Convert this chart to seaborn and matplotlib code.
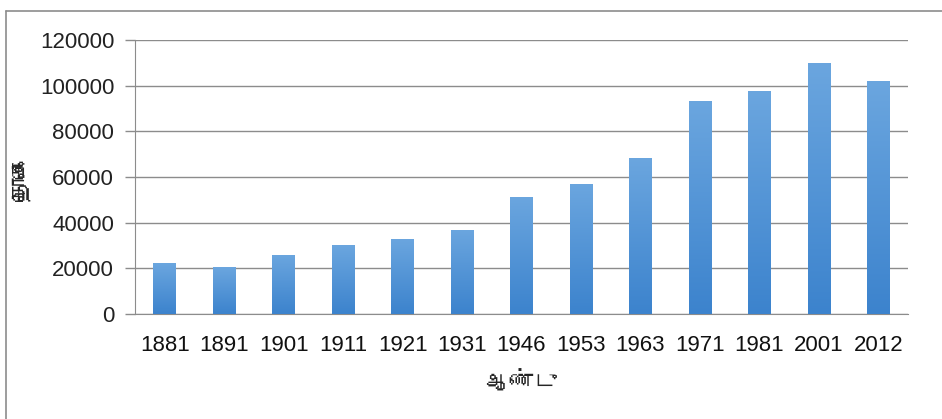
import matplotlib

matplotlib.use("Agg")
import matplotlib.pyplot as plt
import numpy as np
import pandas as pd
import seaborn as sns
from matplotlib import font_manager
from matplotlib.colors import LinearSegmentedColormap
from matplotlib.ft2font import FT2Font

years = ["1881", "1891", "1901", "1911", "1921", "1931", "1946",
         "1953", "1963", "1971", "1981", "2001", "2012"]
counts = [22200, 20500, 26000, 30000, 32900, 36800, 51300,
          57000, 68400, 93100, 97600, 110000, 102000]
y_ticks = [0, 20000, 40000, 60000, 80000, 100000, 120000]
x_title = "ஆண்டு"
y_title = "தொகை"


def find_font(ch):
    # look for any installed font that actually has the glyph
    for f in font_manager.fontManager.ttflist:
        try:
            if FT2Font(f.fname).get_char_index(ord(ch)):
                return f.name
        except Exception:
            pass
    return None


def has_family(name):
    return any(f.name == name for f in font_manager.fontManager.ttflist)


sns.set_style("white")
tamil = find_font("த")
label_family = [tamil, "DejaVu Sans"] if tamil else ["DejaVu Sans"]
narrow = "Liberation Sans Narrow" if has_family("Liberation Sans Narrow") else "Liberation Sans"
x_size = 18 if narrow == "Liberation Sans Narrow" else 16

df = pd.DataFrame({"year": years, "count": counts})

fig = plt.figure(figsize=(9.42, 4.19), dpi=100)
ax = fig.add_axes([135 / 942, 1 - 314 / 419, 773 / 942, 274 / 419])

sns.barplot(data=df, x="year", y="count", color="#4a8fd6", width=0.38,
            saturation=1, ax=ax, zorder=3)

# vertical gradient fill, like the office chart
cmap = LinearSegmentedColormap.from_list("bar", ["#3c83cd", "#6ba6df"])
grad = np.linspace(0, 1, 256).reshape(-1, 1)
for p in ax.patches:
    x0, y0 = p.get_x(), p.get_y()
    w, h = p.get_width(), p.get_height()
    im = ax.imshow(grad, cmap=cmap, origin="lower", aspect="auto",
                   extent=[x0, x0 + w, y0, y0 + h], zorder=3)
    im.set_clip_path(p)
    p.set_alpha(0)

ax.set_xlim(-0.5, len(years) - 0.5)
ax.set_ylim(0, 120000)
ax.set_yticks(y_ticks)
ax.set_yticklabels([str(v) for v in y_ticks], fontsize=16,
                   family="Liberation Sans", color="#222222")
ax.set_xticks(range(len(years)))
ax.set_xticklabels(years, fontsize=x_size, family=narrow, color="#111111")
ax.tick_params(axis="y", length=7, width=1, color="#8c8c8c", pad=8,
               direction="out", left=True)
ax.tick_params(axis="x", length=0, pad=15)
ax.grid(axis="y", color="#8c8c8c", lw=1, zorder=0)
for s in ["top", "right"]:
    ax.spines[s].set_visible(False)
ax.spines["left"].set_color("#8c8c8c")
ax.spines["bottom"].set_color("#8c8c8c")

ax.set_xlabel(x_title, family=label_family, fontsize=17, fontweight="bold",
              labelpad=10)
ax.set_ylabel(y_title, family=label_family, fontsize=17, labelpad=6)

# outer frame: only top and left edges show in the reference
fig.add_artist(plt.Line2D([6 / 942, 1], [1 - 11 / 419] * 2,
                          transform=fig.transFigure, color="#8c8c8c", lw=1.2))
fig.add_artist(plt.Line2D([6 / 942] * 2, [0, 1 - 11 / 419],
                          transform=fig.transFigure, color="#8c8c8c", lw=1.2))

fig.savefig("out.png", dpi=100)
plt.close(fig)
